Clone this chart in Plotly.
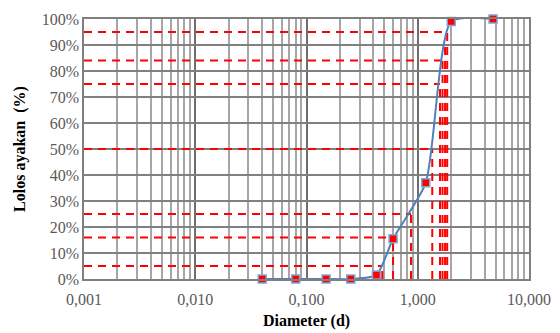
import plotly.graph_objects as go

# Sieve data
diameters = [0.04, 0.08, 0.15, 0.25, 0.425, 0.6, 1.18, 2.0, 4.75]
passing = [0, 0, 0, 0, 1.5, 15.5, 37, 99, 100]

# Reference percent levels and their diameters (red dashed guides)
ref_levels = [5, 16, 25, 50, 75, 84, 95]
ref_diams = [0.48, 0.6, 0.87, 1.35, 1.585, 1.67, 1.84]
# extra vertical guide (no horizontal)
extra_vert_levels = [90]
extra_vert_diams = [1.76]

x_ticks = [0.001, 0.01, 0.1, 1, 10]
x_tick_labels = ["0,001", "0,010", "0,100", "1,000", "10,000"]
y_ticks = list(range(0, 101, 10))
y_tick_labels = [f"{v}%" for v in y_ticks]

fig = go.Figure()

red = "#FF0000"
# horizontal dashed guides
for lv, d in zip(ref_levels, ref_diams):
    fig.add_trace(go.Scatter(x=[x_ticks[0], d], y=[lv, lv], mode="lines",
                             line=dict(color=red, width=2, dash="8px,6px"),
                             hoverinfo="skip", showlegend=False))
# vertical dashed guides
for lv, d in zip(ref_levels + extra_vert_levels, ref_diams + extra_vert_diams):
    fig.add_trace(go.Scatter(x=[d, d], y=[0, lv], mode="lines",
                             line=dict(color=red, width=2, dash="8px,6px"),
                             hoverinfo="skip", showlegend=False))

fig.add_trace(go.Scatter(
    x=diameters, y=passing, mode="lines+markers",
    line=dict(color="#4F81BD", width=2, shape="spline", smoothing=0.6),
    marker=dict(symbol="square", size=8, color=red,
                line=dict(color="#7FA7D9", width=1.5)),
    cliponaxis=False, showlegend=False))

serif = "Liberation Serif, Times New Roman, serif"
fig.update_layout(
    width=552, height=325,
    margin=dict(l=76, r=31, t=11, b=54, autoexpand=False),
    paper_bgcolor="white", plot_bgcolor="white",
    font=dict(family=serif, size=16, color="#595959"),
    showlegend=False,
    xaxis=dict(
        type="log", range=[-3, 1], tickvals=x_ticks, ticktext=x_tick_labels,
        showgrid=True, gridcolor="#6E6E6E", gridwidth=1.5,
        minor=dict(showgrid=True, gridcolor="#A6A6A6", gridwidth=1.5, dtick="D1"),
        showline=True, linecolor="#7F7F7F", linewidth=1.5, mirror=True,
        ticks="", zeroline=False, automargin=False, ticklabelstandoff=5,
        title=dict(text="<b>Diameter (d)</b>", font=dict(family=serif, size=16, color="black"), standoff=8),
    ),
    yaxis=dict(
        range=[0, 100], tickvals=y_ticks, ticktext=y_tick_labels,
        showgrid=True, gridcolor="#808080", gridwidth=1.5,
        showline=True, linecolor="#7F7F7F", linewidth=1.5, mirror=True,
        ticks="", zeroline=False, automargin=False,
        title=dict(text="<b>Lolos ayakan  (%)</b>", font=dict(family=serif, size=16, color="black"), standoff=12),
    ),
)

fig.write_html("out.html")
